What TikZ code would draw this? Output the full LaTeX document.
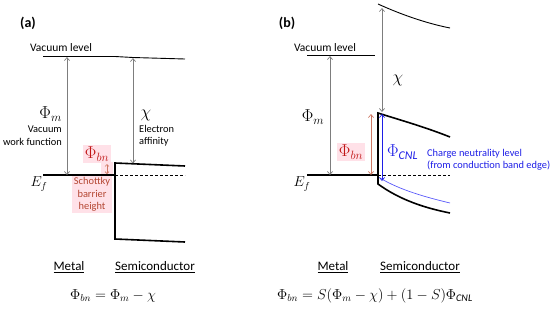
\documentclass[tikz,border=0pt]{standalone}
\usepackage{fontspec}
\setmainfont{Carlito}
\usetikzlibrary{arrows.meta}
\definecolor{arrgray}{RGB}{125,125,125}
\definecolor{bnred}{RGB}{192,20,20}
\definecolor{bnpink}{RGB}{255,225,232}
\definecolor{schott}{RGB}{180,70,50}
\definecolor{salmon}{RGB}{205,120,100}
\definecolor{cnlblue}{RGB}{30,30,230}
\definecolor{cnlline}{RGB}{90,90,250}
\tikzset{
  band/.style={line width=1.6pt, black},
  thinband/.style={line width=0.9pt, black},
  dashedband/.style={line width=0.9pt, black, dashed, dash pattern=on 3pt off 2pt},
  garrow/.style={draw=arrgray, line width=0.7pt, {Straight Barb[length=3pt,width=5pt]}-{Straight Barb[length=3pt,width=5pt]}},
  lbl/.style={font=\fontsize{11.5}{12.5}\selectfont, inner sep=0pt},
  small/.style={font=\fontsize{10.4}{12.2}\selectfont, inner sep=0pt, align=center},
  big/.style={font=\fontsize{17}{18}\selectfont, inner sep=0pt},
  eflbl/.style={font=\fontsize{14}{15}\selectfont, inner sep=0pt},
  pan/.style={font=\fontsize{14}{15}\selectfont\bfseries, inner sep=0pt},
  under/.style={font=\fontsize{13}{14}\selectfont, inner sep=0pt},
  eq/.style={font=\fontsize{14.5}{16}\selectfont, inner sep=0pt}
}
\begin{document}
\begin{tikzpicture}[x=1pt,y=-1pt]
\useasboundingbox (0,0) rectangle (550,311);
% ---------- panel (a) ----------
\node[pan] (pa) at (28,23) {(a)};
\node[lbl] (vla) at (61,48) {Vacuum level};
\coordinate (va1) at (43,56.5);
\coordinate (va2) at (115,56.5);
\coordinate (va3) at (133,57.5);
\coordinate (va4) at (185,59);
\draw[thinband] (va1) -- (va2) -- (va3) -- (va4);
% Fermi level and semiconductor
\coordinate (efa1) at (43,175);
\coordinate (ifa) at (115,175);
\coordinate (efa2) at (185,175);
\coordinate (cba1) at (115,163);
\coordinate (cba2) at (185,166);
\coordinate (vba1) at (115,239);
\coordinate (vba2) at (185,242);
% barrier height background
\node[small,text=schott,fill=bnpink,inner sep=1.5pt,anchor=north] (sbh) at (92,176) {Schottky\\barrier\\height};
\fill[bnpink] (101,162) rectangle (113,176);
\draw[band] (efa1) -- (ifa);
\draw[dashedband] (ifa) -- (efa2);
\draw[band] (cba2) -- (cba1) -- (vba1) -- (vba2);
% arrows
\coordinate (pmt) at (67,57);
\coordinate (pmb) at (67,175);
\draw[garrow] (pmt) -- (pmb);
\coordinate (cht) at (133,58);
\coordinate (chb) at (133,163.5);
\draw[garrow] (cht) -- (chb);
\node[big,anchor=east] (phma) at (62,114) {$\Phi_m$};
\node[small,anchor=north east,align=right] (vwf) at (62,126) {Vacuum\\work function};
\node[big] (chia) at (146,115) {$\chi$};
\node[small,anchor=north west,align=left] (eaf) at (139,125) {Electron\\affinity};
\node[big,text=bnred,fill=bnpink,inner sep=1.5pt] (phbna) at (97,154) {$\Phi_{bn}$};
\coordinate (bnt) at (107,164);
\coordinate (bnb) at (107,174);
\draw[draw=salmon, line width=0.7pt, {Straight Barb[length=2pt,width=4pt]}-{Straight Barb[length=2pt,width=4pt]}] (bnt) -- (bnb);
\node[eflbl] (efa) at (39,184) {$E_f$};
\node[under] (meta) at (69,267) {\underline{Metal}};
\node[under] (semia) at (155,267) {\underline{Semiconductor}};
\node[eq] (eqa) at (113,296) {$\Phi_{bn} = \Phi_m - \chi$};
% ---------- panel (b) ----------
\node[pan] (pb) at (287,23) {(b)};
\node[lbl] (vlb) at (325,48) {Vacuum level};
\coordinate (vb1) at (307,55);
\coordinate (vb2) at (375,55);
\draw[thinband] (vb1) -- (vb2);
\coordinate (vs1) at (378,4);
\coordinate (vs2) at (450,28);
\draw[thinband] (vs1) .. controls (400,14) and (425,23) .. (vs2);
\coordinate (efb1) at (307,175);
\coordinate (ifb) at (378,175);
\coordinate (efb2) at (450,175);
\node[big,text=bnred,fill=bnpink,inner sep=1.5pt] (phbnb) at (351,152) {$\Phi_{bn}$};
\draw[band] (efb1) -- (ifb);
\draw[dashedband] (ifb) -- (efb2);
\coordinate (cbb1) at (378,113);
\coordinate (cbb2) at (450,137);
\coordinate (vbb1) at (378,184);
\coordinate (vbb2) at (450,213);
\draw[band] (cbb2) .. controls (425,127) and (400,120) .. (cbb1) -- (vbb1) .. controls (400,200) and (425,208) .. (vbb2);
\coordinate (cnl1) at (380,178);
\coordinate (cnl2) at (450,203);
\draw[draw=cnlline, line width=0.7pt] (cnl1) .. controls (400,190) and (425,197) .. (cnl2);
% arrows
\coordinate (chbt) at (382,8);
\coordinate (chbb) at (382,112);
\draw[garrow] (chbt) -- (chbb);
\node[big] (chib) at (398,80) {$\chi$};
\coordinate (pmbt) at (330,56);
\coordinate (pmbb) at (330,175);
\draw[garrow] (pmbt) -- (pmbb);
\node[big] (phmb) at (313,117) {$\Phi_m$};
\coordinate (bnbt) at (371,114);
\coordinate (bnbb) at (371,175);
\draw[draw=salmon, line width=0.7pt, {Straight Barb[length=3pt,width=5pt]}-{Straight Barb[length=3pt,width=5pt]}] (bnbt) -- (bnbb);
\coordinate (cnlt) at (382,114);
\coordinate (cnlb) at (382,181);
\draw[draw=cnlblue, line width=0.7pt, {Straight Barb[length=3pt,width=5pt]}-{Straight Barb[length=3pt,width=5pt]}] (cnlt) -- (cnlb);
\node[big,text=cnlblue,anchor=west] (phcnl) at (387,152) {$\Phi_{\mathit{CNL}}$};
\node[small,text=cnlblue,anchor=west,align=left] (cnltxt) at (427,160) {Charge neutrality level\\(from conduction band edge)};
\node[eflbl] (efb) at (302,184) {$E_f$};
\node[under] (metb) at (333,267) {\underline{Metal}};
\node[under] (semib) at (420,267) {\underline{Semiconductor}};
\node[eq] (eqb) at (375,296) {$\Phi_{bn} = S(\Phi_m - \chi) + (1-S)\Phi_{\mathit{CNL}}$};
\end{tikzpicture}
\end{document}
